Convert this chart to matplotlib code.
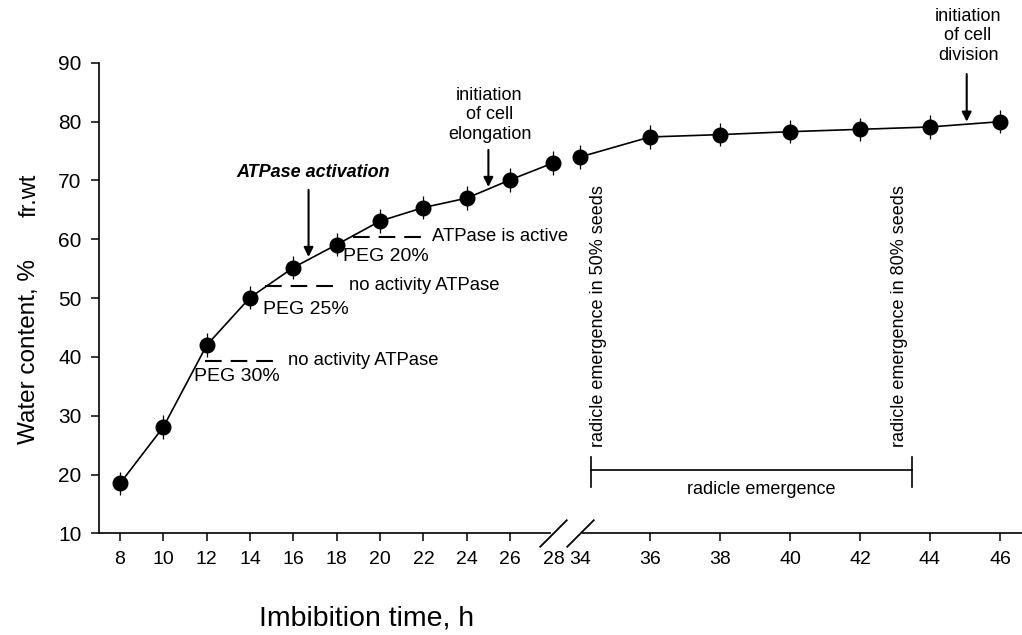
import numpy as np
import matplotlib
matplotlib.use("Agg")
import matplotlib.pyplot as plt

plt.rcParams['font.family'] = ['Liberation Sans', 'DejaVu Sans']

# data
hours = np.array([8, 10, 12, 14, 16, 18, 20, 22, 24, 26, 28, 34, 36, 38, 40, 42, 44, 46])
water = np.array([18.5, 28.1, 42.0, 50.1, 55.2, 59.1, 63.1, 65.4, 67.0, 70.1, 73.0,
                  74.0, 77.4, 77.8, 78.3, 78.7, 79.1, 80.0])
err = np.array([2.0] * len(hours))
tick_hours = [8, 10, 12, 14, 16, 18, 20, 22, 24, 26, 28, 34, 36, 38, 40, 42, 44, 46]

# broken x axis: 28 -> 34 squeezed, second part stretched
GAP = 1.23
K = 1.615


def fwd(h):
    h = np.asarray(h, dtype=float)
    return np.where(h <= 28, h,
                    np.where(h < 34, 28 + (h - 28) * GAP / 6, 28 + GAP + (h - 34) * K))


def inv(p):
    p = np.asarray(p, dtype=float)
    return np.where(p <= 28, p,
                    np.where(p < 28 + GAP, 28 + (p - 28) * 6 / GAP, 34 + (p - 28 - GAP) / K))


fig = plt.figure(figsize=(10.22, 6.35), dpi=100)
ax = fig.add_axes([0.0969, 0.160, 0.9031, 0.741])
ax.set_xscale('function', functions=(fwd, inv))

# curve in two pieces (no line across the break)
first = hours <= 28
for m in (first, ~first):
    ax.errorbar(hours[m], water[m], yerr=err[m], fmt='o-', color='k', ms=10.5,
                lw=1.2, elinewidth=0.9, capsize=0)

ax.set_xlim(7.03, 46.63)
ax.set_ylim(10, 90)
ax.set_yticks(np.arange(10, 91, 10))
ax.set_xticks(tick_hours)
ax.set_xticklabels([str(t) for t in tick_hours])
for s in ('top', 'right'):
    ax.spines[s].set_visible(False)
for s in ('left', 'bottom'):
    ax.spines[s].set_linewidth(1.2)
ax.tick_params(axis='both', direction='out', length=5.5, width=1.1)
ax.tick_params(axis='y', pad=7, labelsize=15)
ax.tick_params(axis='x', pad=7.5, labelsize=14)
for t in ax.xaxis.get_major_ticks():
    if t.get_loc() in (28, 34):
        t.tick1line.set_visible(False)

# axis break marks
bt = ax.get_xaxis_transform()
ax.plot([28, 34], [0, 0], color='white', lw=3, transform=bt, clip_on=False, zorder=3)
ax.plot([28, 34], [0, 0], ls='none', marker=[(-1, -1), (1, 1)], ms=20, mew=1.3,
        color='k', transform=bt, clip_on=False, zorder=4)

# axis labels
ax.set_xlabel('Imbibition time, h', fontsize=20.5)
ax.xaxis.set_label_coords(0.29, -0.153)
fig.text(0.0279, 0.4465, 'Water content, %', rotation=90, fontsize=17.5,
         ha='center', va='center')
fig.text(0.0285, 0.693, 'fr.wt', rotation=90, fontsize=17, ha='center', va='center')

# ATPase activation
ax.text(16.9, 71.4, 'ATPase activation', fontsize=13, fontweight='bold',
        fontstyle='italic', ha='center', va='center')
arrow = dict(arrowstyle='-|>', color='k', lw=1.5, mutation_scale=14, shrinkA=0, shrinkB=0)
ax.annotate('', xy=(16.7, 57.0), xytext=(16.7, 68.4), arrowprops=arrow)

# cell elongation
ax.text(25.05, 81.2, 'initiation\nof cell\nelongation', fontsize=13, ha='center',
        va='center', linespacing=1.2)
ax.annotate('', xy=(25.0, 68.9), xytext=(25.0, 75.2), arrowprops=arrow)

# cell division
ax.text(45.09, 94.6, 'initiation\nof cell\ndivision', fontsize=13, ha='center',
        va='center', linespacing=1.2, clip_on=False)
ax.annotate('', xy=(45.05, 80.0), xytext=(45.05, 88.1), arrowprops=arrow,
            annotation_clip=False)

# PEG dashed levels
peg = [
    (39.35, 11.92, 15.14, 15.75, 'no activity ATPase', 11.41, 36.6, 'PEG 30%'),
    (52.1, 14.68, 18.0, 18.57, 'no activity ATPase', 14.59, 48.0, 'PEG 25%'),
    (60.4, 18.74, 22.06, 22.39, 'ATPase is active', 18.28, 57.0, 'PEG 20%'),
]
for yv, x0, x1, xt, txt, xp, yp, lab in peg:
    ax.plot([x0, x1], [yv, yv], color='k', lw=1.5, dashes=(8, 4.3))
    ax.text(xt, yv, txt, fontsize=13.3, ha='left', va='center')
    ax.text(xp, yp, lab, fontsize=14, ha='left', va='center')

# radicle emergence
ax.text(34.52, 24.7, 'radicle emergence in 50% seeds', rotation=90, fontsize=13,
        ha='center', va='bottom')
ax.text(43.14, 24.7, 'radicle emergence in 80% seeds', rotation=90, fontsize=13,
        ha='center', va='bottom')
ax.plot([34.3, 43.48], [20.77, 20.77], color='k', lw=1.2)
ax.plot([34.3, 34.3], [17.9, 23.0], color='k', lw=1.2)
ax.plot([43.48, 43.48], [17.9, 23.0], color='k', lw=1.2)
ax.text(39.19, 17.5, 'radicle emergence', fontsize=13, ha='center', va='center')

fig.savefig('out.png', dpi=100)
